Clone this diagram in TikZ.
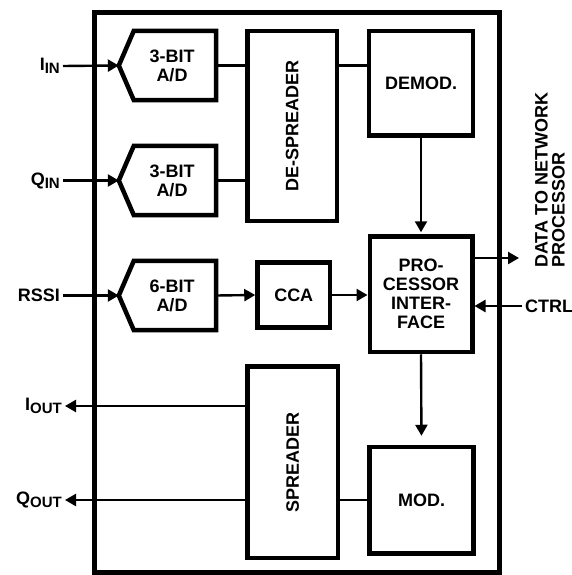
\documentclass[tikz,border=0pt]{standalone}
\usepackage{fontspec}
\setmainfont{Liberation Sans}
\usetikzlibrary{arrows.meta}
\newcommand{\sig}[2]{#1\raisebox{-0.35ex}{\fontsize{15}{15}\selectfont #2}}

\begin{document}
\begin{tikzpicture}[x=1pt,y=-1pt,
	every node/.style={font=\bfseries\fontsize{18}{19}\selectfont},
	boxline/.style={draw,line width=4.5pt},
	blk/.style={boxline,inner sep=0pt,align=center},
	wire/.style={line width=2.4pt},
	>={Triangle[length=11pt,width=12pt]}]
	\useasboundingbox (0,0) rectangle (572,575);

	% chip outline
	\node[blk,line width=5pt,minimum width=405pt,minimum height=559pt] (chip) at (296.5,292.5) {};

	% A/D converters
	\node[inner sep=0pt,align=center,minimum width=88pt,minimum height=69pt] (adc1) at (172,65.5) {3-BIT\\A/D};
	\node[inner sep=0pt,align=center,minimum width=88pt,minimum height=69pt] (adc2) at (172,180.5) {3-BIT\\A/D};
	\node[inner sep=0pt,align=center,minimum width=88pt,minimum height=69pt] (adc3) at (172,295.5) {6-BIT\\A/D};
	\foreach \a in {adc1,adc2,adc3}
		\draw[boxline] (\a.north east) -- (\a.south east) -- ([xshift=6pt]\a.south west)
			-- ([xshift=-9pt]\a.west) coordinate (\a tip) -- ([xshift=6pt]\a.north west) -- cycle;

	% blocks
	\node[blk,minimum width=89.5pt,minimum height=190pt] (desp) at (292.25,126) {\rotatebox{90}{DE-SPREADER}};
	\node[blk,minimum width=104pt,minimum height=104.5pt] (demod) at (421,83.25) {DEMOD.};
	\node[blk,minimum width=72.5pt,minimum height=65pt] (cca) at (293.75,295) {CCA};
	\node[blk,minimum width=102.5pt,minimum height=115.5pt] (proc) at (421,294.25) {PRO-\\CESSOR\\INTER-\\FACE};
	\node[blk,minimum width=90.5pt,minimum height=191.5pt] (spread) at (292.75,462.25) {\rotatebox{90}{SPREADER}};
	\node[blk,minimum width=104pt,minimum height=106.5pt] (mod) at (421.5,500.25) {MOD.};

	% inputs
	\node[anchor=east,inner sep=3pt] (iin) at (63,66) {\sig{I}{IN}};
	\node[anchor=east,inner sep=3pt] (qin) at (63,180.5) {\sig{Q}{IN}};
	\node[anchor=east,inner sep=3pt] (rssi) at (63,295.5) {RSSI};
	\draw[wire,->] (iin.east) -- (adc1tip);
	\draw[wire,->] (qin.east) -- (adc2tip);
	\draw[wire,->] (rssi.east) -- (adc3tip);

	% receive path
	\draw[wire] (adc1.east) -- (adc1.east -| desp.west);
	\draw[wire] (adc2.east) -- (adc2.east -| desp.west);
	\draw[wire] (desp.east |- adc1.east) -- (demod.west |- adc1.east);
	\draw[wire,->] (adc3.east) -- (cca.west);
	\draw[wire,->] (cca.east) -- (proc.west |- cca.east);
	\draw[wire,->,shorten >=2pt] (demod.south) -- (proc.north);

	% processor interface
	\coordinate (dout) at (519,258);
	\draw[wire,->] (proc.east |- dout) -- (dout);
	\node[rotate=90,anchor=west,align=left,inner sep=0pt,font=\bfseries\fontsize{18}{17}\selectfont] (data) at (550,268) {DATA TO NETWORK\\PROCESSOR};
	\node[anchor=west,inner sep=3pt] (ctrl) at (522,306) {CTRL};
	\draw[wire,->] (ctrl.west) -- (proc.east |- ctrl.west);
	\draw[wire,->,shorten >=9pt] (proc.south) -- (mod.north);

	% transmit path
	\draw[wire] (spread.east |- mod.west) -- (mod.west);
	\node[anchor=east,inner sep=3pt] (iout) at (65,406) {\sig{I}{OUT}};
	\node[anchor=east,inner sep=3pt] (qout) at (65,500) {\sig{Q}{OUT}};
	\draw[wire,->] (spread.west |- iout.east) -- (iout.east);
	\draw[wire,->] (spread.west |- qout.east) -- (qout.east);
\end{tikzpicture}
\end{document}
